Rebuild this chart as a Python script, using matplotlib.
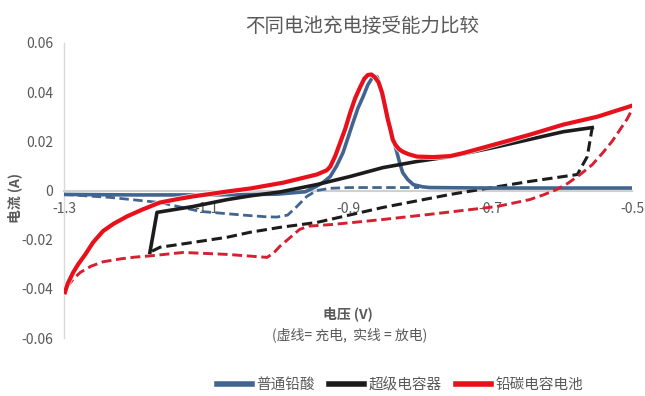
import matplotlib
matplotlib.use("Agg")
import matplotlib.pyplot as plt
import matplotlib.patheffects as pe
from matplotlib.lines import Line2D

plt.rcParams['font.family'] = ['Noto Sans CJK SC', 'DejaVu Sans']

title = "不同电池充电接受能力比较"
series_names = ["普通铅酸", "超级电容器", "铅碳电容电池"]
x_ticks = [-1.3, -1.1, -0.9, -0.7, -0.5]
x_tick_labels = ["-1.3", "-1.1", "-0.9", "-0.7", "-0.5"]
y_ticks = [-0.06, -0.04, -0.02, 0, 0.02, 0.04, 0.06]
y_tick_labels = ["-0.06", "-0.04", "-0.02", "0", "0.02", "0.04", "0.06"]

# 普通铅酸 - discharge (solid)
lead_dis_v = [-1.30, -1.20, -1.10, -1.00, -0.96, -0.945, -0.935, -0.925, -0.916, -0.907, -0.900,
              -0.893, -0.886, -0.879, -0.872, -0.866, -0.862, -0.859, -0.855, -0.851, -0.846,
              -0.841, -0.836, -0.831, -0.827, -0.823, -0.816, -0.808, -0.795, -0.785, -0.70, -0.60, -0.50]
lead_dis_i = [-0.0016, -0.0018, -0.0018, -0.0015, -0.0005, 0.0016, 0.0033, 0.0057, 0.0100, 0.0154, 0.0215,
              0.0276, 0.0335, 0.0380, 0.0430, 0.0458, 0.0465, 0.0462, 0.0430, 0.0380, 0.0320,
              0.0260, 0.0205, 0.0154, 0.0110, 0.0073, 0.0045, 0.0024, 0.0015, 0.0012, 0.0010, 0.0010, 0.0010]
# 普通铅酸 - charge (dashed)
lead_chg_v = [-1.30, -1.235, -1.165, -1.108, -1.048, -1.015, -1.00, -0.985, -0.972, -0.958, -0.944,
              -0.925, -0.897, -0.80]
lead_chg_i = [-0.0016, -0.0028, -0.0049, -0.0085, -0.0100, -0.0107, -0.0108, -0.0100, -0.0065, -0.0024, 0.0000,
              0.0009, 0.0012, 0.0012]

# 超级电容器 - discharge (solid)
cap_dis_v = [-1.179, -1.169, -1.118, -1.07, -1.038, -0.996, -0.944, -0.897, -0.851, -0.803,
             -0.756, -0.69, -0.644, -0.597, -0.556]
cap_dis_i = [-0.0252, -0.0089, -0.0065, -0.0037, -0.0022, -0.0006, 0.0024, 0.0057, 0.0093, 0.0118,
             0.0138, 0.0178, 0.0208, 0.0239, 0.0256]
# 超级电容器 - charge (dashed)
cap_chg_v = [-1.176, -1.165, -1.118, -1.07, -1.038, -0.996, -0.944, -0.851, -0.756, -0.714,
             -0.644, -0.577, -0.563, -0.556]
cap_chg_i = [-0.0247, -0.0231, -0.0211, -0.0190, -0.0170, -0.0150, -0.0130, -0.0069, -0.0016, 0.0004,
             0.0037, 0.0065, 0.0138, 0.0256]

# 铅碳电容电池 - discharge (solid)
pbc_dis_v = [-1.2986, -1.295, -1.287, -1.28, -1.27, -1.259, -1.245, -1.23, -1.211, -1.19, -1.165,
             -1.14, -1.118, -1.07, -1.038, -0.991, -0.944, -0.93, -0.925, -0.918, -0.911, -0.904,
             -0.897, -0.89, -0.883, -0.877, -0.872, -0.867, -0.862, -0.857, -0.852, -0.848, -0.844,
             -0.840, -0.837, -0.833, -0.828, -0.823, -0.815, -0.803, -0.78, -0.756, -0.738, -0.69,
             -0.644, -0.597, -0.549, -0.50]
pbc_dis_i = [-0.0414, -0.0380, -0.0333, -0.0300, -0.0260, -0.0211, -0.0165, -0.0135, -0.0105, -0.0078, -0.0049,
             -0.0035, -0.0024, -0.0004, 0.0008, 0.0032, 0.0065, 0.0082, 0.0097, 0.0140, 0.0195, 0.0250,
             0.0316, 0.0375, 0.0420, 0.0455, 0.0470, 0.0472, 0.0460, 0.0440, 0.0398, 0.0345, 0.0290,
             0.0245, 0.0207, 0.0185, 0.0168, 0.0158, 0.0148, 0.0138, 0.0136, 0.0140, 0.0152, 0.0190,
             0.0227, 0.0268, 0.0300, 0.0345]
# 铅碳电容电池 - charge (dashed)
pbc_chg_v = [-1.296, -1.287, -1.277, -1.262, -1.245, -1.22, -1.20, -1.179, -1.132, -1.07, -1.014,
             -1.005, -0.996, -0.985, -0.977, -0.968, -0.955, -0.921, -0.851, -0.785, -0.69, -0.644,
             -0.625, -0.606, -0.59, -0.573, -0.556, -0.541, -0.528, -0.517, -0.507, -0.50]
pbc_chg_i = [-0.0393, -0.0360, -0.0333, -0.0308, -0.0290, -0.0278, -0.0271, -0.0266, -0.0252, -0.0260, -0.0272,
             -0.0255, -0.0227, -0.0200, -0.0180, -0.0158, -0.0145, -0.0138, -0.0118, -0.0097, -0.0065, -0.0037,
             -0.0018, 0.0004, 0.0030, 0.0065, 0.0105, 0.0154, 0.0200, 0.0247, 0.0290, 0.0329]

BLUE = "#41658F"
BLACK = "#1C1C1C"
RED = "#E8101A"
RED_D = "#D42030"
GRAY = "#595959"

fig = plt.figure(figsize=(6.45, 3.96), dpi=100)
fig.patch.set_facecolor("white")
ax = fig.add_axes([64/645, 58/396, 568/645, 295/396])

dash = (0, (3.4, 1.6))
lw = 2.6
ax.plot(lead_chg_v, lead_chg_i, color=BLUE, lw=2.0, ls=dash, zorder=2)
ax.plot(cap_chg_v, cap_chg_i, color=BLACK, lw=2.2, ls=dash, zorder=2)
ax.plot(lead_dis_v, lead_dis_i, color=BLUE, lw=lw, zorder=3, solid_joinstyle='round')
ax.plot(cap_dis_v, cap_dis_i, color=BLACK, lw=lw, zorder=4, solid_joinstyle='round')
ax.plot(pbc_chg_v, pbc_chg_i, color=RED_D, lw=2.1, ls=dash, zorder=5)
ax.plot(pbc_dis_v, pbc_dis_i, color=RED, lw=3.0, zorder=6, solid_joinstyle='round',
        path_effects=[pe.Stroke(linewidth=4.2, foreground='white', alpha=0.8), pe.Normal()])

ax.set_xlim(-1.3, -0.5)
ax.set_ylim(-0.06, 0.06)
ax.set_xticks(x_ticks)
ax.set_xticklabels(x_tick_labels)
ax.set_yticks(y_ticks)
ax.set_yticklabels(y_tick_labels)

for s in ["top", "right"]:
    ax.spines[s].set_visible(False)
ax.spines["left"].set_color("#D9D9D9")
ax.spines["left"].set_linewidth(1.0)
ax.spines["bottom"].set_position(("data", 0))
ax.spines["bottom"].set_color("#D0D0D0")
ax.spines["bottom"].set_linewidth(1.5)
ax.spines["bottom"].set_zorder(1)
ax.tick_params(axis="both", length=0, labelsize=10, colors=GRAY)
ax.tick_params(axis="x", pad=8)
ax.tick_params(axis="y", pad=8)
ax.set_facecolor("none")

fig.text(15/645, 1 - 198/396, "电流 (A)", ha="center", va="center", rotation=90,
         fontsize=10, color=GRAY, fontweight="bold")
fig.text(362/645, 1 - 26/396, title, ha="center", va="center", fontsize=14, color=GRAY)
fig.text(348/645, 1 - 314/396, "电压 (V)", ha="center", va="center", fontsize=10,
         color=GRAY, fontweight="bold")
fig.text(350/645, 1 - 335/396, "(虚线= 充电,  实线 = 放电)", ha="center", va="center",
         fontsize=10, color=GRAY)

handles = [Line2D([0], [0], color=BLUE, lw=4),
           Line2D([0], [0], color=BLACK, lw=4),
           Line2D([0], [0], color=RED, lw=4)]
fig.legend(handles, series_names, loc="center", bbox_to_anchor=(400/645, 1 - 385/396),
           ncol=3, frameon=False, fontsize=10.5, labelcolor=GRAY, handlelength=2.4,
           handletextpad=0.3, columnspacing=1.0)

fig.savefig("out.png", dpi=100)
